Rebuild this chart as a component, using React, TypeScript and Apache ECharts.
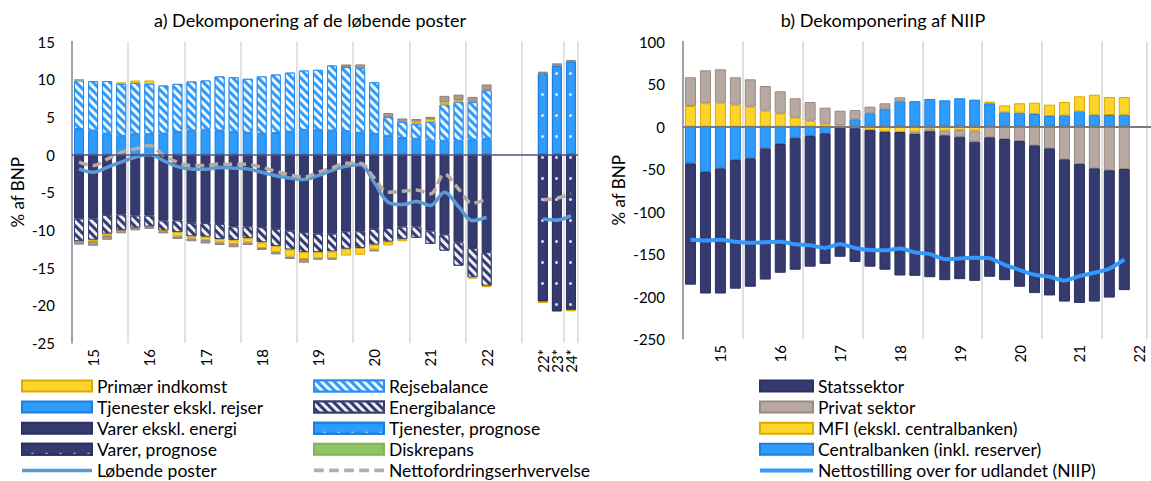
import React, { useEffect, useRef } from 'react';
import * as echarts from 'echarts';

// ---------- Panel a) ----------
const quartersA = [
  '2015K1', '2015K2', '2015K3', '2015K4', '2016K1', '2016K2', '2016K3', '2016K4',
  '2017K1', '2017K2', '2017K3', '2017K4', '2018K1', '2018K2', '2018K3', '2018K4',
  '2019K1', '2019K2', '2019K3', '2019K4', '2020K1', '2020K2', '2020K3', '2020K4',
  '2021K1', '2021K2', '2021K3', '2021K4', '2022K1', '2022K2', '_a', '_b', '_c',
  '2022*', '2023*', '2024*',
];
const yearTicksA = ['15', '16', '17', '18', '19', '20', '21', '22'];
const prognoseTicksA = ['22*', '23*', '24*'];

const tjenesterA = [3.4, 3.2, 2.8, 2.5, 2.7, 2.7, 2.8, 3.0, 3.2, 3.3, 3.2, 3.05, 2.9, 2.75, 2.85, 3.05, 3.28, 3.28, 3.19, 3.1, 2.9, 2.75, 2.5, 2.2, 2.1, 1.85, 1.85, 1.85, 2.0, 2.1, null, null, null, null, null, null];
const rejseA = [6.43, 6.54, 6.94, 6.88, 6.82, 6.68, 6.36, 6.38, 6.49, 6.53, 7.16, 7.22, 7.15, 7.61, 7.77, 7.82, 7.87, 7.96, 8.63, 8.5, 8.56, 6.85, 2.46, 2.14, 1.97, 2.45, 4.79, 5.1, 4.95, 6.4, null, null, null, null, null, null];
const varerA = [-8.5, -8.5, -8.0, -7.95, -8.1, -8.1, -8.75, -8.75, -9.05, -9.1, -9.2, -9.55, -9.55, -9.65, -9.85, -10.1, -10.3, -10.5, -10.5, -10.2, -10.2, -9.85, -9.75, -9.55, -9.55, -10.1, -10.6, -11.65, -12.4, -12.95, null, null, null, null, null, null];
const energiA = [-3.0, -2.8, -2.5, -2.05, -1.6, -1.45, -1.35, -1.55, -1.8, -1.8, -2.0, -1.8, -1.55, -2.0, -2.3, -2.5, -2.65, -2.45, -2.35, -2.3, -2.2, -2.1, -1.8, -1.65, -1.5, -1.75, -2.15, -3.1, -3.9, -4.45, null, null, null, null, null, null];
const primaerA = [0.2, -0.2, -0.3, 0.2, 0.3, 0.45, -0.1, -0.55, -0.3, -0.45, -0.45, -0.5, -0.55, -0.75, -0.8, -0.95, -0.9, -0.8, -0.9, -0.9, -0.9, -0.65, -0.5, -0.3, 0.3, 0.4, 0.3, 0.25, -0.15, -0.2, null, null, null, -0.2, null, -0.2];
const oevrigeA = [-0.45, -0.6, -0.5, -0.45, -0.35, -0.3, -0.25, -0.35, -0.35, -0.45, -0.35, -0.45, -0.35, -0.25, -0.3, -0.3, -0.5, -0.2, -0.2, 0.35, 0.5, -0.25, 0.55, 0.45, 0.35, 0.3, 0.85, 0.75, 0.7, 0.8, null, null, null, 0.25, 0.3, 0.2];
const tjenesterPrognoseA = [null, null, null, null, null, null, null, null, null, null, null, null, null, null, null, null, null, null, null, null, null, null, null, null, null, null, null, null, null, null, null, null, null, 10.75, 11.8, 12.35];
const varerPrognoseA = [null, null, null, null, null, null, null, null, null, null, null, null, null, null, null, null, null, null, null, null, null, null, null, null, null, null, null, null, null, null, null, null, null, -19.5, -20.8, -20.6];
const diskrepansA = [null, null, null, null, null, null, null, null, null, null, null, null, null, null, null, null, null, null, null, null, null, null, null, null, null, null, null, null, null, null, null, null, null, null, null, null];
const loebendeA = [-1.9, -2.35, -1.7, -1.0, -0.35, 0.0, -0.8, -1.6, -1.9, -1.95, -1.7, -1.8, -1.9, -2.35, -2.8, -3.1, -3.3, -2.8, -2.1, -1.55, -1.33, -3.7, -6.33, -6.64, -6.24, -6.77, -5.0, -6.9, -8.76, -8.32, null, null, null, -8.54, -8.68, -8.1];
const nettoA = [-1.0, -1.45, -0.6, 0.3, 0.75, 1.2, -0.1, -1.0, -1.45, -1.45, -1.25, -1.3, -1.3, -1.7, -2.2, -2.7, -3.0, -2.35, -1.77, -1.15, -1.15, -3.1, -5.0, -4.87, -4.7, -5.2, -2.57, -4.56, -6.46, -5.9, null, null, null, -5.98, -5.8, -5.2];

// ---------- Panel b) ----------
const quartersB = [
  '2015K1', '2015K2', '2015K3', '2015K4', '2016K1', '2016K2', '2016K3', '2016K4',
  '2017K1', '2017K2', '2017K3', '2017K4', '2018K1', '2018K2', '2018K3', '2018K4',
  '2019K1', '2019K2', '2019K3', '2019K4', '2020K1', '2020K2', '2020K3', '2020K4',
  '2021K1', '2021K2', '2021K3', '2021K4', '2022K1', '2022K2', '2022K3', '2022K4',
];
const yearTicksB = ['15', '16', '17', '18', '19', '20', '21', '22'];
const centralB = [-43.3, -53.5, -49.2, -39.4, -37.4, -25.7, -20.6, -13.2, -11.2, -8.0, null, 8.5, 15.5, 21, 29.6, 29.8, 32.4, 30.8, 33.2, 31.6, 27.3, 16.7, 16.3, 14.7, 12.4, 13.1, 17.9, 13.9, 13.5, 13.9, null, null];
const mfiB = [24.1, 27.3, 28.0, 25.7, 23.3, 18.6, 15.1, 10.4, 6.8, 3.3, 1.5, -2, -4, -6, -6.5, -6, -2.5, -4.9, -4, -4.9, 1.9, 8.2, 11.0, 13.3, 13.3, 15.7, 17.6, 23.5, 21.2, 20.8, null, null];
const privatB = [33.8, 38.8, 39.3, 32.2, 32.2, 29.0, 26.3, 22.8, 22.0, 18.8, 17.1, 10.9, 7.8, 6.3, 4.7, -2.8, -3, -5.5, -8, -12.9, -12.7, -14.7, -17.1, -22.2, -25.7, -38.6, -44.1, -49.2, -51.5, -50, null, null];
const statsB = [-142.8, -143.0, -147.3, -151.4, -151.1, -154.4, -151.5, -155.3, -153.7, -153.6, -153.3, -157.3, -160.9, -162.5, -168.8, -166.9, -171.8, -170.4, -167.6, -163.8, -164.1, -166.1, -171.4, -173.8, -173.1, -167.4, -163.5, -156.8, -149.8, -142.5, null, null];
const niipB = [-133.3, -134.1, -133.3, -135.6, -136.9, -136.1, -135.6, -138.5, -139.7, -142.9, -138.1, -142.9, -145.3, -145.6, -143.6, -148.1, -150.1, -156.1, -155.3, -154.5, -154.9, -162.8, -168.8, -174.4, -176.8, -181.3, -176.1, -172.1, -167.3, -156.5, null, null];

const FONT = 'Lato';
const NAVY = '#353a6f';
const BLUE = '#2f9bfb';
const YELLOW = '#ffd42a';
const TAN = '#b7a9a1';

const stripes = (color: string) => ({
  symbol: 'rect',
  symbolSize: 1,
  dashArrayX: [1, 0],
  dashArrayY: [2.5, 2.5],
  rotation: Math.PI / 4,
  color,
});
const dots = {
  symbol: 'circle',
  symbolSize: 1,
  dashArrayX: [0, 9, 3, 2],
  dashArrayY: [0, 9, 3, 9],
  color: 'rgba(235,240,255,0.9)',
};

const solidIconA = 'path://M0,0H70V3.5H0Z';
const dashedIconA = 'path://M0,0h9v3.5h-9z M14,0h9v3.5h-9z M28,0h9v3.5h-9z M42,0h9v3.5h-9z M56,0h9v3.5h-9z';
const solidIconB = 'path://M0,0H53V4H0Z';

export default function App() {
  const ref = useRef<HTMLDivElement>(null);
  useEffect(() => {
    if (!ref.current) return;
    const chart = echarts.init(ref.current, null, { renderer: 'svg' });
    const barA = (name: string, data: any[], color: string, border: string, decal?: any, extra?: any) => ({
      name,
      type: 'bar',
      xAxisIndex: 0,
      yAxisIndex: 0,
      stack: 'a',
      barWidth: 10,
      data,
      itemStyle: { color, borderColor: border, borderWidth: 1, decal },
      ...(extra || {}),
    });
    const barB = (name: string, data: any[], color: string, border: string, extra?: any) => ({
      name,
      type: 'bar',
      xAxisIndex: 1,
      yAxisIndex: 1,
      stack: 'b',
      barWidth: 11,
      data,
      itemStyle: { color, borderColor: border, borderWidth: 1 },
      ...(extra || {}),
    });
    const legendBase = {
      orient: 'vertical',
      top: 377,
      height: 130,
      itemHeight: 11,
      itemGap: 3.1,
      padding: 0,
      selectedMode: false,
      symbolKeepAspect: true,
      textStyle: { fontFamily: FONT, fontSize: 17.5, lineHeight: 17, color: '#000' },
    };
    const option: any = {
      animation: false,
      textStyle: { fontFamily: FONT },
      graphic: [
        {
          type: 'text', x: 310, y: 20,
          style: { text: 'a) Dekomponering af de løbende poster', fontFamily: FONT, fontSize: 18, fill: '#000', align: 'center', verticalAlign: 'middle' },
        },
        {
          type: 'text', x: 883, y: 20,
          style: { text: 'b) Dekomponering af NIIP', fontFamily: FONT, fontSize: 18, fill: '#000', align: 'center', verticalAlign: 'middle' },
        },
      ],
      grid: [
        { left: 72, top: 41.5, width: 506, height: 301.5 },
        { left: 683, top: 41.5, width: 478.7, height: 297.5 },
      ],
      xAxis: [
        {
          type: 'category', gridIndex: 0, data: quartersA, position: 'bottom',
          axisLine: { show: false }, axisTick: { show: false },
          axisLabel: {
            interval: 0, rotate: 90, margin: 6, fontFamily: FONT, fontSize: 15, color: '#000',
            formatter: (_v: string, i: number) =>
              i < 30 ? (i % 4 === 1 ? yearTicksA[(i - 1) / 4] : '') : i >= 33 ? prognoseTicksA[i - 33] : '',
          },
          splitLine: { show: true, interval: 3, lineStyle: { color: '#d9d9d9', width: 1.5 } },
        },
        {
          type: 'category', gridIndex: 1, data: quartersB, position: 'bottom',
          axisLine: { show: false }, axisTick: { show: false },
          axisLabel: {
            interval: 0, rotate: 90, margin: 6, fontFamily: FONT, fontSize: 15, color: '#000',
            formatter: (_v: string, i: number) => (i % 4 === 2 ? yearTicksB[(i - 2) / 4] : ''),
          },
          splitLine: { show: true, interval: 3, lineStyle: { color: '#d4d4d4', width: 1.5 } },
        },
      ],
      yAxis: [
        {
          type: 'value', gridIndex: 0, min: -25, max: 15, interval: 5,
          axisLine: { show: true, lineStyle: { color: '#8a8aa6', width: 1.5 } },
          axisTick: { show: false }, splitLine: { show: false },
          axisLabel: { margin: 17, fontFamily: FONT, fontSize: 15, color: '#000' },
          name: '% af BNP', nameLocation: 'middle', nameGap: 46, nameMoveOverlap: false,
          nameTextStyle: { fontFamily: FONT, fontSize: 17, color: '#000' },
        },
        {
          type: 'value', gridIndex: 1, min: -250, max: 100, interval: 50,
          axisLine: { show: true, lineStyle: { color: '#8c8c8c', width: 1.5 } },
          axisTick: { show: false }, splitLine: { show: false },
          axisLabel: { margin: 18, fontFamily: FONT, fontSize: 15, color: '#000' },
          name: '% af BNP', nameLocation: 'middle', nameGap: 56, nameMoveOverlap: false,
          nameTextStyle: { fontFamily: FONT, fontSize: 17, color: '#000' },
        },
      ],
      legend: [
        {
          ...legendBase, left: 21, itemWidth: 70,
          data: [
            { name: 'Primær indkomst', icon: 'rect' },
            { name: 'Tjenester ekskl. rejser', icon: 'rect' },
            { name: 'Varer ekskl. energi', icon: 'rect' },
            { name: 'Varer, prognose', icon: 'rect' },
            { name: 'Løbende poster', icon: solidIconA },
          ],
        },
        {
          ...legendBase, left: 313, itemWidth: 70,
          data: [
            { name: 'Rejsebalance', icon: 'rect' },
            { name: 'Energibalance', icon: 'rect' },
            { name: 'Tjenester, prognose', icon: 'rect' },
            { name: 'Diskrepans', icon: 'rect' },
            { name: 'Nettofordringserhvervelse', icon: dashedIconA },
          ],
        },
        {
          ...legendBase, left: 759, itemWidth: 53,
          data: [
            { name: 'Statssektor', icon: 'rect' },
            { name: 'Privat sektor', icon: 'rect' },
            { name: 'MFI (ekskl. centralbanken)', icon: 'rect' },
            { name: 'Centralbanken (inkl. reserver)', icon: 'rect' },
            { name: 'Nettostilling over for udlandet (NIIP)', icon: solidIconB },
          ],
        },
      ],
      series: [
        barA('Tjenester ekskl. rejser', tjenesterA, BLUE, '#1b7fe0', undefined, {
          markLine: {
            silent: true, symbol: ['none', 'none'], label: { show: false },
            lineStyle: { color: '#50507a', width: 1.5, type: 'solid' },
            data: [{ yAxis: 0 }],
          },
        }),
        barA('Varer ekskl. energi', varerA, NAVY, '#2c3163'),
        barA('Tjenester, prognose', tjenesterPrognoseA, BLUE, '#1b7fe0', dots),
        barA('Varer, prognose', varerPrognoseA, NAVY, '#2c3163', dots),
        barA('Rejsebalance', rejseA, BLUE, '#2a8ff0', stripes('rgba(255,255,255,0.92)')),
        barA('Energibalance', energiA, NAVY, '#3a3f72', stripes('rgba(255,255,255,0.92)')),
        barA('Primær indkomst', primaerA, YELLOW, '#d9aa00'),
        barA('Øvrige poster', oevrigeA, '#a99b91', '#8f8076'),
        barA('Diskrepans', diskrepansA, '#8fc463', '#7fb356'),
        {
          name: 'Løbende poster', type: 'line', xAxisIndex: 0, yAxisIndex: 0, data: loebendeA,
          smooth: 0.35, symbol: 'none', connectNulls: false,
          lineStyle: { color: '#5b9bd5', width: 3.5 }, itemStyle: { color: '#5b9bd5' },
        },
        {
          name: 'Nettofordringserhvervelse', type: 'line', xAxisIndex: 0, yAxisIndex: 0, data: nettoA,
          smooth: 0.35, symbol: 'none', connectNulls: false,
          lineStyle: { color: '#b9aba1', width: 3.5, type: [9, 5] }, itemStyle: { color: '#b9aba1' },
        },
        barB('Centralbanken (inkl. reserver)', centralB, BLUE, '#1b7fe0', {
          markLine: {
            silent: true, symbol: ['none', 'none'], label: { show: false },
            lineStyle: { color: '#7a7a7a', width: 2, type: 'solid' },
            data: [{ yAxis: 0 }],
          },
        }),
        barB('MFI (ekskl. centralbanken)', mfiB, YELLOW, '#d9aa00'),
        barB('Privat sektor', privatB, TAN, '#9a8a80'),
        barB('Statssektor', statsB, NAVY, '#2c3163'),
        {
          name: 'Nettostilling over for udlandet (NIIP)', type: 'line', xAxisIndex: 1, yAxisIndex: 1, data: niipB,
          smooth: 0.2, symbol: 'none',
          lineStyle: { color: '#3399ff', width: 4 }, itemStyle: { color: '#3399ff' },
        },
      ],
    };
    chart.setOption(option);
    return () => chart.dispose();
  }, []);
  return (
    <div style={{ position: 'absolute', left: 0, top: 0, width: 1151, height: 481, overflow: 'hidden' }}>
      <div ref={ref} style={{ position: 'absolute', left: 0, top: 0, width: 1200, height: 481 }} />
    </div>
  );
}
